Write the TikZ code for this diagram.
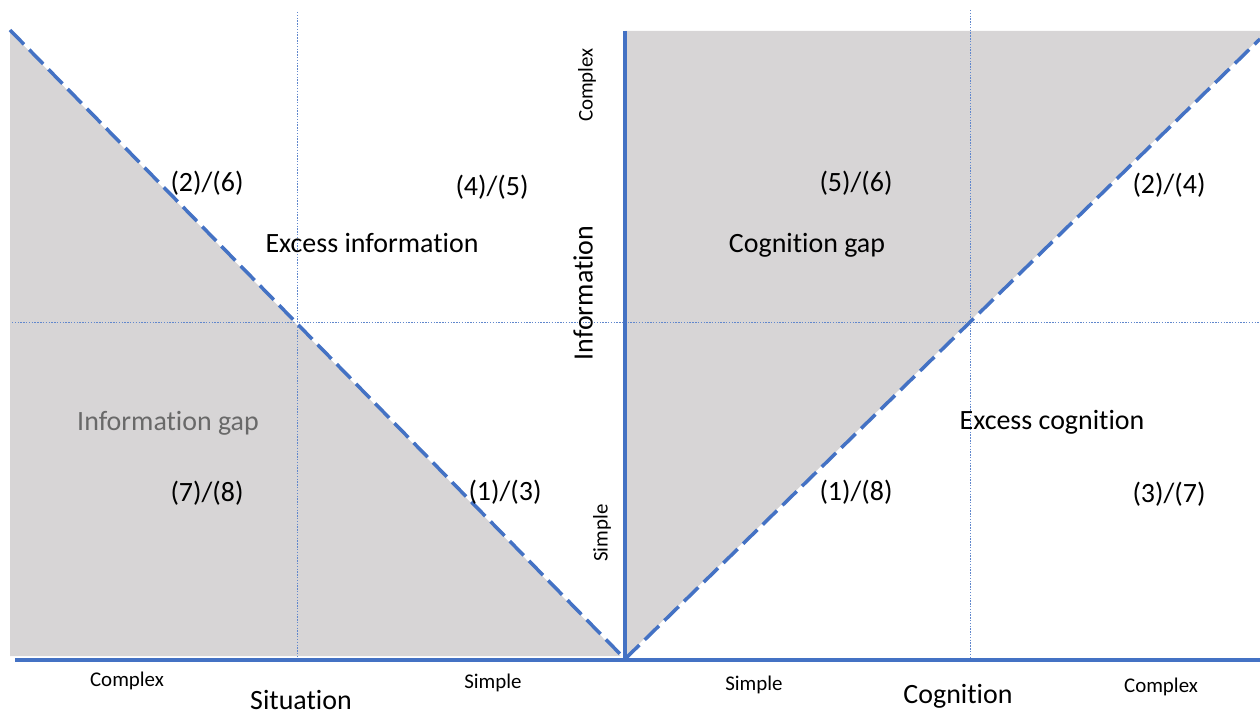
\documentclass[tikz,border=0pt]{standalone}
\usepackage{fontspec}
\setmainfont[Ligatures=NoCommon]{Carlito}
\definecolor{axisblue}{RGB}{68,114,196}
\definecolor{gapgray}{RGB}{215,213,214}
\definecolor{softgray}{RGB}{105,105,105}

\begin{document}
\begin{tikzpicture}[x=0.02cm, y=-0.02cm,
    axisline/.style={line width=1.8pt, color=axisblue},
    borderline/.style={line width=2pt, color=axisblue, dash pattern=on 0.4cm off 0.15cm},
    underline/.style={line width=1pt, color=white},
    guide/.style={line width=0.5pt, color=axisblue!85, dash pattern=on 0.8pt off 0.8pt},
    biglabel/.style={font=\fontsize{15.9}{19}\selectfont},
    smalllabel/.style={font=\fontsize{11.9}{14}\selectfont}]
  %%%%% START %%%%%
  \useasboundingbox (0,0) rectangle (1260,716);

  \coordinate (origin) at (625,659);
  \coordinate (lefttop) at (10,30);
  \coordinate (leftbot) at (10,656);
  \coordinate (axisleft) at (15,660);
  \coordinate (axisright) at (1260,660);
  \coordinate (axistop) at (625,31);
  \coordinate (righttop) at (1260,31);
  \coordinate (rightend) at (1260,39);

  % gap regions
  \fill[gapgray] (lefttop) -- (origin) -- (origin |- leftbot) -- (leftbot) -- cycle;
  \fill[gapgray] (axistop) -- (righttop) -- (rightend) -- (origin) -- cycle;

  % guide lines
  \draw[guide] (297,12) -- (297,656);
  \draw[guide] (970,10) -- (970,658);
  \draw[guide] (12,322) -- (1260,322);

  % border lines
  \draw[underline] (lefttop) -- (origin) -- (rightend);
  \draw[borderline] (lefttop) -- (origin);
  \draw[borderline] (origin) -- (rightend);

  % axes
  \draw[axisline] (axisleft) -- (axisright);
  \draw[axisline] (axistop) -- (origin |- axisright);

  % left half
  \node[biglabel] (l26) at (207,183) {(2)/(6)};
  \node[biglabel] (l45) at (492,187) {(4)/(5)};
  \node[biglabel] (exinf) at (372,243) {Excess information};
  \node[biglabel, text=softgray] (infgap) at (168,423) {Information gap};
  \node[biglabel] (l78) at (207,493) {(7)/(8)};
  \node[biglabel] (l13) at (505,492) {(1)/(3)};

  % right half
  \node[biglabel] (l56) at (856,183) {(5)/(6)};
  \node[biglabel] (l24) at (1169,185) {(2)/(4)};
  \node[biglabel] (coggap) at (807,245) {Cognition gap};
  \node[biglabel] (excog) at (1052,422) {Excess cognition};
  \node[biglabel] (l18) at (856,492) {(1)/(8)};
  \node[biglabel] (l37) at (1169,494) {(3)/(7)};

  % axis labels
  \node[smalllabel] (sitcomplex) at (127,681) {Complex};
  \node[biglabel] (situation) at (301,700) {Situation};
  \node[smalllabel] (sitsimple) at (493,683) {Simple};
  \node[smalllabel] (cogsimple) at (754,685) {Simple};
  \node[biglabel] (cognition) at (958,696) {Cognition};
  \node[smalllabel] (cogcomplex) at (1161,687) {Complex};
  \node[smalllabel, rotate=90] (infcomplex) at (587,85) {Complex};
  \node[biglabel, rotate=90] (information) at (583,293) {Information};
  \node[smalllabel, rotate=90] (infsimple) at (602,533) {Simple};
  %%%%% END %%%%%
\end{tikzpicture}
\end{document}
